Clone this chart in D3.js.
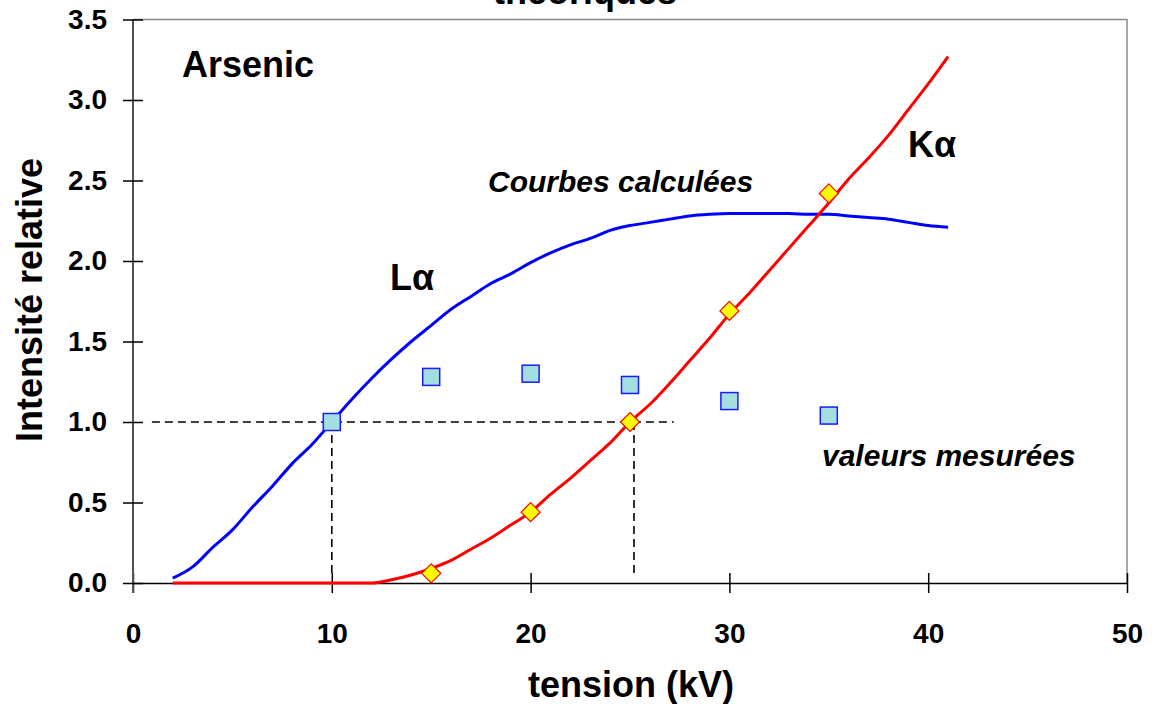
<!DOCTYPE html>
<html><head><meta charset="utf-8">
<script src="https://cdn.jsdelivr.net/npm/d3@7"></script>
<style>body{margin:0;background:#fff}svg{display:block}text{font-family:"Liberation Sans",Arial,sans-serif;font-weight:bold}</style>
</head><body>
<svg id="c" width="1155" height="704"></svg>
<script>
const tensionCalc = d3.range(2, 42);
const laCalc = [0.03,0.10,0.22,0.33,0.47,0.60,0.74,0.86,1.0,1.14,1.27,1.39,1.50,1.60,1.70,1.78,1.86,1.92,1.99,2.05,2.10,2.14,2.19,2.22,2.24,2.26,2.28,2.29,2.295,2.295,2.295,2.295,2.29,2.29,2.28,2.27,2.26,2.24,2.22,2.21];
const kaCalc = [0,0,0,0,0,0,0,0,0,0,0,0.02,0.05,0.09,0.14,0.21,0.28,0.36,0.44,0.55,0.65,0.76,0.87,1.0,1.11,1.24,1.38,1.52,1.67,1.80,1.94,2.08,2.22,2.36,2.51,2.64,2.78,2.94,3.10,3.27];
const laMeasT = [10,15,20,25,30,35];
const laMeas = [1.0,1.28,1.30,1.23,1.13,1.04];
const kaMeasT = [15,20,25,30,35];
const kaMeas = [0.06,0.44,1.0,1.69,2.42];
const xTicks = [0,10,20,30,40,50];
const yTicks = [0,0.5,1,1.5,2,2.5,3,3.5];
// reference dashed lines: [x1,y1,x2,y2] in data units
const refLines = [[0.95,1,27.2,1],[10,1,10,0.06],[25.2,1,25.2,0.06]];

const svg = d3.select("#c");
const x = d3.scaleLinear().domain([0,50]).range([133,1127]);
const y = d3.scaleLinear().domain([0,3.5]).range([583,19.5]);

// plot border (top & right)
svg.append("path").attr("d",`M${x(0)},${y(3.5)}H${x(50)}V${y(0)}`).attr("fill","none").attr("stroke","#888").attr("stroke-width",1.5);

// axes
const gx = svg.append("g").attr("transform",`translate(0,${y(0)})`)
  .call(d3.axisBottom(x).tickValues(xTicks).tickFormat(d3.format("d")).tickSizeInner(10).tickSizeOuter(0).tickPadding(30));
gx.select(".domain").attr("stroke","#000").attr("stroke-width",1.5);
gx.selectAll(".tick line").attr("y1",-10).attr("stroke","#000").attr("stroke-width",1.5);
gx.selectAll("text").attr("font-size",28).attr("fill","#000");
const gy = svg.append("g").attr("transform",`translate(${x(0)},0)`)
  .call(d3.axisLeft(y).tickValues(yTicks).tickFormat(d3.format(".1f")).tickSizeInner(10).tickSizeOuter(0).tickPadding(16));
gy.select(".domain").attr("stroke","#555").attr("stroke-width",2).attr("d",`M0,${y(3.5)}V${y(0)+10}`);
gy.selectAll(".tick line").attr("x2",10).attr("x1",-10).attr("stroke","#000").attr("stroke-width",1.5);
gy.selectAll("text").attr("font-size",28).attr("fill","#000");

// dashed reference lines
svg.append("g").selectAll("line").data(refLines).join("line")
  .attr("x1",d=>x(d[0])).attr("y1",d=>y(d[1])).attr("x2",d=>x(d[2])).attr("y2",d=>y(d[3]))
  .attr("stroke","#000").attr("stroke-width",1.6).attr("stroke-dasharray","8,5");

// curves
const line = d3.line().x(d=>x(d[0])).y(d=>y(d[1])).curve(d3.curveMonotoneX);
svg.append("path").datum(tensionCalc.map((t,i)=>[t,laCalc[i]])).attr("d",line)
  .attr("fill","none").attr("stroke","#0000ff").attr("stroke-width",3);
svg.append("path").datum(tensionCalc.map((t,i)=>[t,kaCalc[i]])).attr("d",line)
  .attr("fill","none").attr("stroke","#ff0000").attr("stroke-width",3);

// measured markers
svg.append("g").selectAll("rect").data(laMeasT.map((t,i)=>[t,laMeas[i]])).join("rect")
  .attr("x",d=>x(d[0])-8.5).attr("y",d=>y(d[1])-8.5).attr("width",17).attr("height",17)
  .attr("fill","#a3dfe0").attr("stroke","#1a1aff").attr("stroke-width",1.5);
svg.append("g").selectAll("path").data(kaMeasT.map((t,i)=>[t,kaMeas[i]])).join("path")
  .attr("d",d=>`M${x(d[0])},${y(d[1])-9.5}l9.5,9.5l-9.5,9.5l-9.5,-9.5z`)
  .attr("fill","#ffff00").attr("stroke","#ff0000").attr("stroke-width",1.2);

// texts
svg.append("text").attr("x",585).attr("y",4).attr("text-anchor","middle").attr("font-size",36).text("théoriques");
svg.append("text").attr("x",182).attr("y",77).attr("font-size",36).text("Arsenic");
svg.append("text").attr("x",390).attr("y",290).attr("font-size",36).text("Lα");
svg.append("text").attr("x",908).attr("y",157).attr("font-size",36).text("Kα");
svg.append("text").attr("x",488).attr("y",192).attr("font-size",30).attr("font-style","italic").text("Courbes calculées");
svg.append("text").attr("x",822).attr("y",466).attr("font-size",30).attr("font-style","italic").text("valeurs mesurées");
svg.append("text").attr("x",631).attr("y",697).attr("text-anchor","middle").attr("font-size",36).text("tension (kV)");
svg.append("text").attr("transform","translate(42,300) rotate(-90)").attr("text-anchor","middle").attr("font-size",36).text("Intensité relative");
</script>
</body></html>
